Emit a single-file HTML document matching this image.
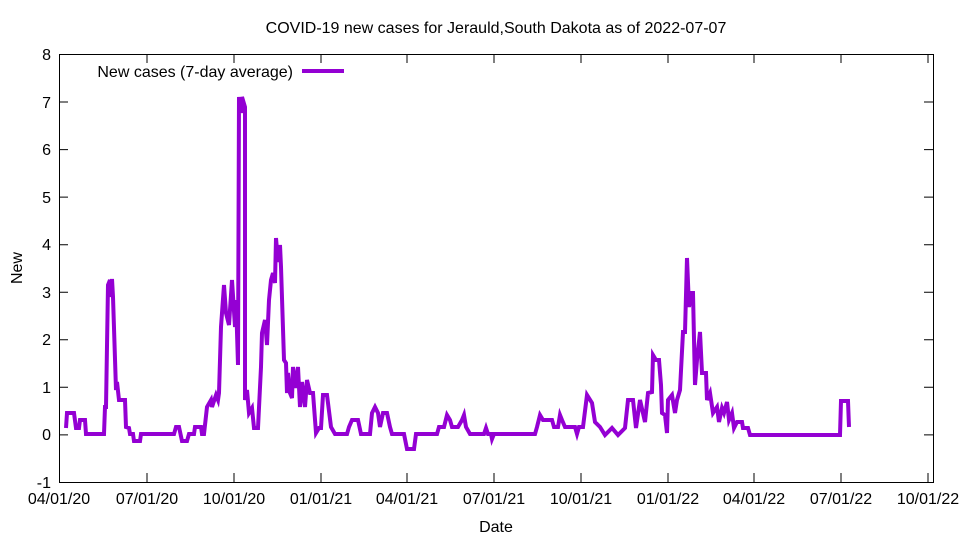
<!DOCTYPE html>
<html><head><meta charset="utf-8"><style>
html,body{margin:0;padding:0;background:#fff;}
svg{display:block;font-family:"Liberation Sans",sans-serif;}
</style></head><body>
<svg width="960" height="540" xmlns="http://www.w3.org/2000/svg">
<rect width="960" height="540" fill="#fff"/>
<text x="496" y="33" font-size="16" text-anchor="middle">COVID-19 new cases for Jerauld,South Dakota as of 2022-07-07</text>
<g stroke="#000" stroke-width="1" fill="none">
<rect x="59.5" y="54.5" width="874" height="428"/>
<path d="M59 54.5h9M59 102h9M59 149.6h9M59 197.1h9M59 244.7h9M59 292.2h9M59 339.8h9M59 387.3h9M59 434.9h9M933 54.5h-9M933 102h-9M933 149.6h-9M933 197.1h-9M933 244.7h-9M933 292.2h-9M933 339.8h-9M933 387.3h-9M933 434.9h-9
M147 482v-9M234 482v-9M321 482v-9M407 482v-9M494 482v-9M581 482v-9M668 482v-9M754 482v-9M841 482v-9M928 482v-9
M147 54v9M234 54v9M321 54v9M407 54v9M494 54v9M581 54v9M668 54v9M754 54v9M841 54v9M928 54v9"/>
</g>
<g font-size="16" text-anchor="end">
<text x="51" y="60">8</text><text x="51" y="108">7</text><text x="51" y="155">6</text><text x="51" y="203">5</text><text x="51" y="250">4</text><text x="51" y="298">3</text><text x="51" y="345">2</text><text x="51" y="393">1</text><text x="51" y="440">0</text><text x="51" y="488">-1</text>
</g>
<g font-size="16" text-anchor="middle">
<text x="59" y="504">04/01/20</text><text x="147" y="504">07/01/20</text><text x="234" y="504">10/01/20</text><text x="321" y="504">01/01/21</text><text x="407" y="504">04/01/21</text><text x="494" y="504">07/01/21</text><text x="581" y="504">10/01/21</text><text x="668" y="504">01/01/22</text><text x="754" y="504">04/01/22</text><text x="841" y="504">07/01/22</text><text x="928" y="504">10/01/22</text>
<text x="496" y="532">Date</text>
</g>
<text x="22" y="268" font-size="16" text-anchor="middle" transform="rotate(-90 22 268)">New</text>
<text x="293" y="77" font-size="16" text-anchor="end">New cases (7-day average)</text>
<line x1="302" y1="71" x2="344" y2="71" stroke="#9400d3" stroke-width="4"/>
<polyline fill="none" stroke="#9400d3" stroke-width="4" stroke-linejoin="miter" points="
66,428 67,413 74,413 76,428 79,428 80,420 85,420 86,434 104,434 105,407 106,407 108,285 110,280 111,297 112,279 113,297 116,390 117,382 119,400 125,400 126,427 129,428 130,434 133,434 134,441 140,441 141,434 174,434 176,427 179,427 182,441 187,441 189,434 194,434 195,427 201,427 202,434 204,434 207,407 211,400 212,407 216,395 218,400 219,393 221,327 222,313 224,285 226,313 229,325 232,280 235,327 236,300 238,365 239,97 241,113 242,97 245,107 245,400 247,390 249,413 252,408 254,428 258,428 261,367 262,333 265,320 267,345 269,300 271,280 273,273 275,283 276,238 278,262 280,245 281,267 284,360 286,363 287,393 288,373 290,393 292,398 293,367 296,388 298,367 300,407 302,382 305,407 307,380 310,393 313,393 316,433 319,428 321,428 323,395 327,395 331,427 335,434
347,434 349,427 352,420 358,420 361,434 370,434 372,413 375,407 378,413 380,427 383,413 387,413 390,427 392,434 404,434 407,449 414,449 416,434 437,434 439,427 444,427 447,415 450,420 452,427 458,427 462,420 464,415 466,427 470,434 484,434 486,428 488,434 491,434 492,439 494,434 535,434 537,427 540,415 543,420 552,420 554,427 558,427 560,415 562,420 565,427 575,427 577,434 579,427 583,427 587,395 592,403 595,422 600,427 605,435 612,428 618,435 625,428 628,400 633,400 636,428 640,400 645,422 648,393 652,392 653,355 656,360 659,360 661,385 662,413 665,415 667,433 668,400 672,395 675,413 677,400 680,390 683,332 685,332 687,258 689,307 691,293 693,293 695,385 697,360 700,332 702,373 706,373 707,400 710,393 713,413 717,407 719,422 722,408 724,413 727,402 729,420 732,413 734,428 737,422 742,422 743,428 748,428 750,435 840,435 841,401 848,401 849,427"/>
</svg>
</body></html>
